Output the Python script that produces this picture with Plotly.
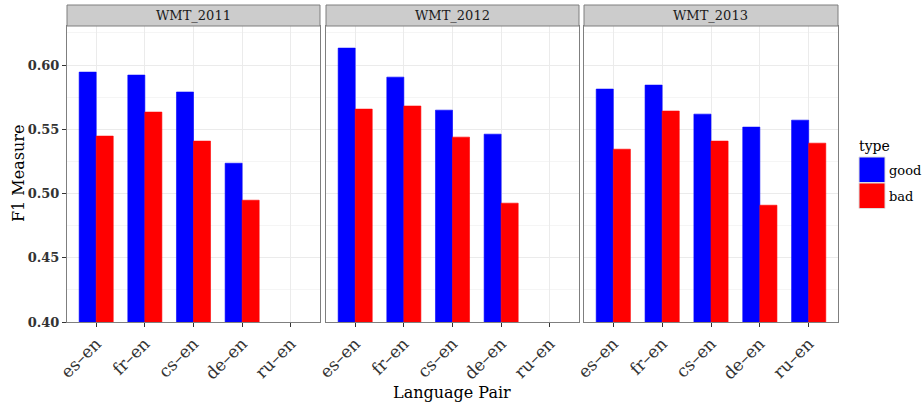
import plotly.graph_objects as go
from plotly.subplots import make_subplots

panels = ["WMT_2011", "WMT_2012", "WMT_2013"]
pairs = ["es–en", "fr–en", "cs–en", "de–en", "ru–en"]
good = {
    "WMT_2011": [0.5945, 0.5922, 0.5790, 0.5236, None],
    "WMT_2012": [0.6132, 0.5906, 0.5649, 0.5462, None],
    "WMT_2013": [0.5813, 0.5844, 0.5618, 0.5517, 0.5571],
}
bad = {
    "WMT_2011": [0.5447, 0.5634, 0.5408, 0.4948, None],
    "WMT_2012": [0.5657, 0.5681, 0.5439, 0.4925, None],
    "WMT_2013": [0.5345, 0.5642, 0.5408, 0.4909, 0.5392],
}
type_labels = ["good", "bad"]
type_colors = ["#0000FF", "#FF0000"]
y_ticks = [0.40, 0.45, 0.50, 0.55, 0.60]

FONT = "DejaVu Serif"
W, H = 924, 406
L, R, T, B = 67, 86, 26, 84
pw = W - L - R
ph = H - T - B

fig = make_subplots(rows=1, cols=3, shared_yaxes=True)
px_domains = [(67, 320), (326, 579), (584, 838)]
domains = [((a - L) / pw, (b - L) / pw) for a, b in px_domains]

for i, p in enumerate(panels):
    for lab, col, vals in zip(type_labels, type_colors, [good[p], bad[p]]):
        fig.add_trace(go.Bar(x=pairs, y=vals, name=lab,
                             marker=dict(color=col, line=dict(width=0.6, color=col)),
                             showlegend=False, legendgroup=lab), row=1, col=i + 1)

for i in range(3):
    ax = "xaxis" if i == 0 else f"xaxis{i+1}"
    fig.layout[ax].update(
        domain=list(domains[i]), range=[-0.6, 4.6], showline=True, mirror=True,
        linecolor="#7f7f7f", linewidth=1, showgrid=True, gridcolor="#ebebeb", gridwidth=1,
        ticks="outside", ticklen=4, tickcolor="#333333", tickangle=-45,
        tickfont=dict(family=FONT, size=17, color="#333333"), zeroline=False,
        categoryorder="array", categoryarray=pairs)
    yax = "yaxis" if i == 0 else f"yaxis{i+1}"
    fig.layout[yax].update(
        range=[0.40, 0.6304], showline=True, mirror=True, linecolor="#7f7f7f", linewidth=1,
        showgrid=True, gridcolor="#ebebeb", gridwidth=1.2, tickvals=y_ticks,
        ticktext=[f"{v:.2f}" for v in y_ticks], zeroline=False,
        minor=dict(tickvals=[0.425, 0.475, 0.525, 0.575, 0.625], showgrid=True,
                   gridcolor="#f5f5f5", gridwidth=1),
        ticks="outside" if i == 0 else "", ticklen=4, tickcolor="#333333",
        showticklabels=(i == 0),
        tickfont=dict(family=FONT, size=13, color="#333333", weight="bold"))

# strips
strip_h = 21 / ph
for i, p in enumerate(panels):
    x0, x1 = domains[i]
    fig.add_shape(type="rect", xref="paper", yref="paper", x0=x0, x1=x1, y0=1, y1=1 + strip_h,
                  fillcolor="#cccccc", line=dict(color="#7f7f7f", width=1))
    fig.add_annotation(xref="paper", yref="paper", x=(x0 + x1) / 2, y=1 + strip_h / 2,
                       text=p, showarrow=False, font=dict(family=FONT, size=13, color="#1a1a1a"),
                       xanchor="center", yanchor="middle")

# legend
def px_x(x):
    return (x - L) / pw

def px_y(y):
    return (H - B - y) / ph

fig.add_annotation(xref="paper", yref="paper", x=px_x(857), y=px_y(146), text="type",
                   showarrow=False, xanchor="left", yanchor="middle",
                   font=dict(family=FONT, size=14, color="#000000"))
key_tops = [157, 183]
for lab, col, top in zip(type_labels, type_colors, key_tops):
    fig.add_shape(type="rect", xref="paper", yref="paper", x0=px_x(859), x1=px_x(885),
                  y0=px_y(top + 25.5), y1=px_y(top), fillcolor=col,
                  line=dict(color="#dddddd", width=1))
    fig.add_annotation(xref="paper", yref="paper", x=px_x(887), y=px_y(top + 13), text=lab,
                       showarrow=False, xanchor="left", yanchor="middle",
                       font=dict(family=FONT, size=13, color="#000000"))

fig.add_annotation(xref="paper", yref="paper", x=px_x(18), y=0.5, text="F1 Measure",
                   textangle=-90, showarrow=False, xanchor="center", yanchor="middle",
                   font=dict(family=FONT, size=16, color="#000000"))
fig.add_annotation(xref="paper", yref="paper", x=px_x(452), y=px_y(392), text="Language Pair",
                   showarrow=False, xanchor="center", yanchor="middle",
                   font=dict(family=FONT, size=16, color="#000000"))

fig.update_layout(width=W, height=H, margin=dict(l=L, r=R, t=T, b=B, pad=0),
                  barmode="group", bargap=0.3, bargroupgap=0,
                  plot_bgcolor="white", paper_bgcolor="white", showlegend=False,
                  font=dict(family=FONT))
fig.write_html("out.html", config={"displayModeBar": False},
               post_script="document.body.style.margin='0px';")
